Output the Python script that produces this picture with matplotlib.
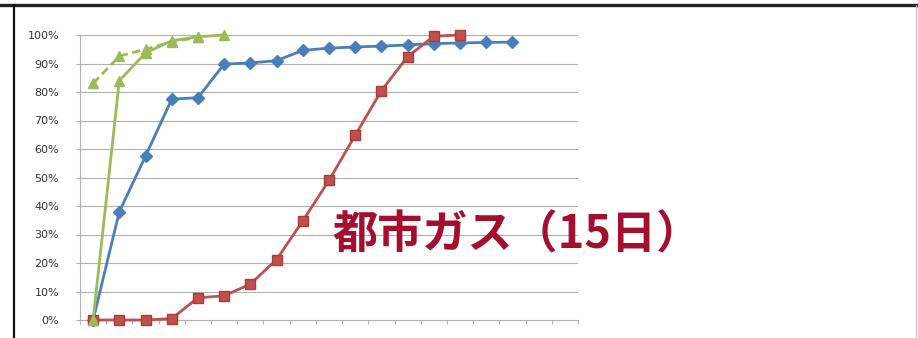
import matplotlib.pyplot as plt
import numpy as np
from matplotlib.lines import Line2D
from matplotlib.ticker import FuncFormatter, FixedLocator

# values (percent)
n_cats = 19
blue_vals = [0, 38, 57.5, 77.5, 78, 89.8, 90.2, 91, 94.6, 95.4, 95.8, 96.1, 96.5, 97, 97.2, 97.4, 97.5]
red_vals = [0, 0, 0, 0.5, 7.8, 8.5, 12.6, 21.2, 34.8, 49, 64.8, 80.5, 92.4, 99.6, 100]
green_vals = [0, 84, 93.7, 98, 99.4, 100]
green_dash_vals = [83, 92.6, 95, 97.6, 99.2]
y_ticks = [0, 10, 20, 30, 40, 50, 60, 70, 80, 90, 100]
label_text = '都市ガス（15日）'

W, H = 918, 338
fig = plt.figure(figsize=(W / 100, H / 100), dpi=100)
ax = fig.add_axes([80 / W, 18 / H, 498 / W, 285 / H])

grid_c = '#b0b0b0'
for v in y_ticks[1:]:
    ax.axhline(v, color=grid_c, lw=0.8, zorder=1)

blue = '#4a7ebb'
red = '#c0504d'
green = '#9bbb59'

ax.plot(range(len(blue_vals)), blue_vals, color=blue, lw=2, marker='D', ms=6,
        mfc=blue, mec=blue, zorder=3, clip_on=False)
ax.plot(range(len(red_vals)), red_vals, color=red, lw=2, marker='s', ms=6.5,
        mfc=red, mec='#a83c3a', zorder=4, clip_on=False)
ax.plot(range(len(green_dash_vals)), green_dash_vals, color=green, lw=2, ls=(0, (3, 1.6)),
        marker='^', ms=7, mfc=green, mec=green, zorder=5, clip_on=False)
ax.plot(range(len(green_vals)), green_vals, color=green, lw=2, marker='^', ms=7,
        mfc=green, mec=green, zorder=5, clip_on=False)

ax.set_xlim(-0.5, n_cats - 0.5)
ax.set_ylim(0, 100)
ax.xaxis.set_major_locator(FixedLocator(np.arange(n_cats + 1) - 0.5))
ax.set_xticklabels([])
ax.set_yticks(y_ticks)
ax.yaxis.set_major_formatter(FuncFormatter(lambda v, p: f'{int(v)}%'))
ax.tick_params(axis='y', labelsize=8, labelcolor='#333333', color=grid_c, length=3, pad=12)
ax.tick_params(axis='x', color=grid_c, length=3, direction='out')

for s in ['top', 'right']:
    ax.spines[s].set_visible(False)
for s in ['left', 'bottom']:
    ax.spines[s].set_color(grid_c)
    ax.spines[s].set_linewidth(0.8)

ax.text(9.15, 29.5, label_text, color='#a50f2f', fontsize=32.5, fontweight='bold',
        family=['Noto Sans CJK JP', 'DejaVu Sans'], va='center', ha='left', zorder=6)

# frame of the original screenshot
fig.add_artist(Line2D([0, 1], [1 - 4.5 / H, 1 - 4.5 / H], color='#222222', lw=2.4))
fig.add_artist(Line2D([14 / W, 14 / W], [0, 1 - 4.5 / H], color='#111111', lw=1.6))
fig.add_artist(Line2D([916 / W, 916 / W], [0, 1 - 4.5 / H], color='#bbbbbb', lw=0.8))

fig.savefig('out.png', dpi=100)
